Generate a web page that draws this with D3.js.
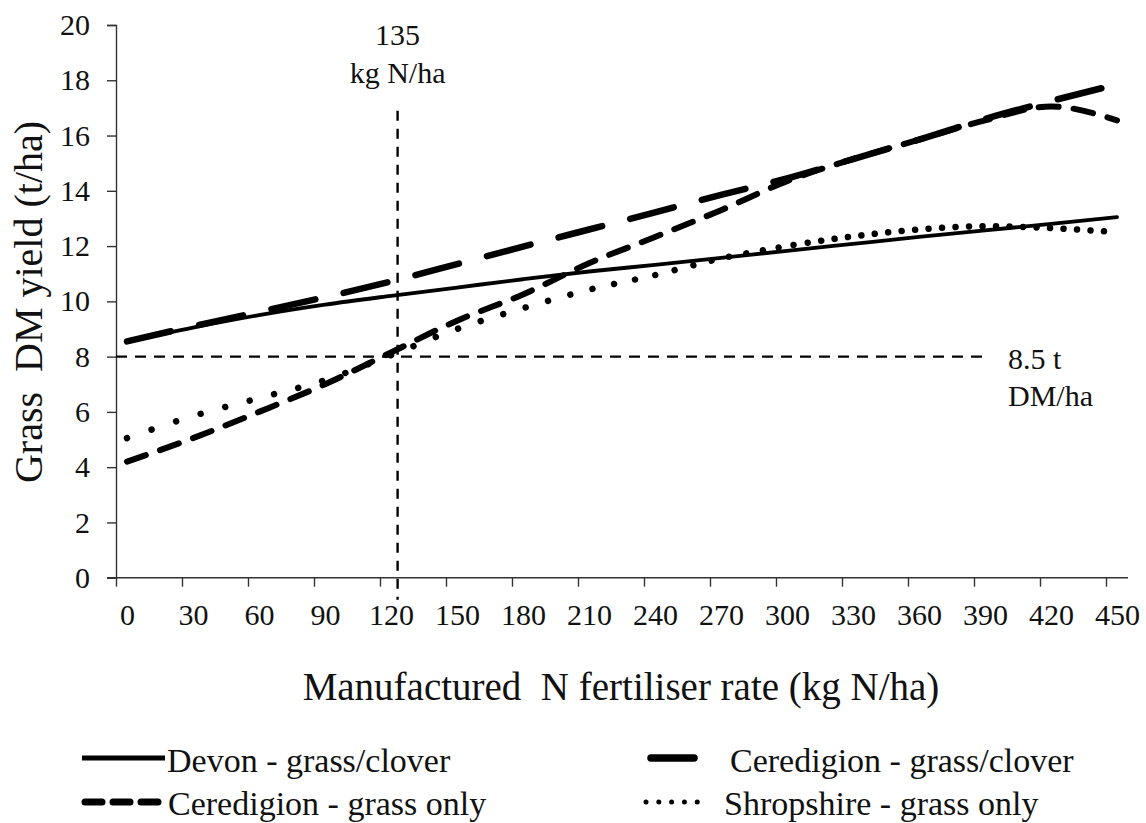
<!DOCTYPE html>
<html>
<head>
<meta charset="utf-8">
<script src="https://cdn.jsdelivr.net/npm/d3@7"></script>
</head>
<body style="margin:0; background:#fff">
<svg id="chart" font-family="Liberation Serif" style="display:block; font-family:'Liberation Serif', serif"></svg>
<script>
const width = 1146;
const height = 823;
const serif = "Liberation Serif";

// --- Data (t DM/ha read at each 30 kg N/ha) ---
const nRates = [0, 30, 60, 90, 120, 150, 180, 210, 240, 270, 300, 330, 360, 390, 420, 450];
const devonClover = [8.55, 9.05, 9.5, 9.88, 10.2, 10.5, 10.8, 11.08, 11.32, 11.57, 11.83, 12.08, 12.33, 12.57, 12.8, 13.05];
const ceredigionClover = [8.55, 9.1, 9.62, 10.15, 10.72, 11.35, 11.98, 12.6, 13.22, 13.85, 14.45, 15.15, 15.85, 16.6, 17.25, 17.85];
const ceredigionGrass = [4.2, 5.05, 6.0, 7.0, 8.15, 9.3, 10.25, 11.38, 12.33, 13.3, 14.35, 15.15, 15.85, 16.55, 17.05, 16.55];
const shropshireGrass = [5.05, 5.85, 6.5, 7.15, 8.05, 9.0, 9.75, 10.42, 10.95, 11.55, 12.0, 12.35, 12.6, 12.72, 12.65, 12.5];

const xTickLabels = d3.range(0, 451, 30);
const yTickLabels = d3.range(0, 21, 2);

// reference lines
const refRate = 123;      // vertical marker (labelled 135 kg N/ha)
const refYield = 8;       // horizontal marker (labelled 8.5 t DM/ha)

const svg = d3.select("#chart")
  .attr("width", width)
  .attr("height", height)
  .attr("viewBox", [0, 0, width, height]);

// category-style axis: each 10 kg N is one 22px slot, ticks on slot edges
const x = d3.scaleLinear().domain([0, 450]).range([127, 1117]);
const y = d3.scaleLinear().domain([0, 20]).range([577.7, 25]);

const axisColor = "#333";

// --- Axes ---
const gy = svg.append("g")
  .attr("transform", `translate(${x(-5)},0)`)
  .call(d3.axisLeft(y).tickValues(yTickLabels).tickSize(9).tickPadding(17).tickFormat(d3.format("d")));

const gxTicks = svg.append("g")
  .attr("transform", `translate(0,${y(0)})`)
  .call(d3.axisBottom(x).tickValues(d3.range(-5, 446, 30)).tickSize(9).tickFormat(""));
gxTicks.select(".domain").attr("d", `M${x(-5) - 9},0H${x(455)}`);

const gxLabels = svg.append("g")
  .attr("transform", `translate(0,${y(0)})`)
  .call(d3.axisBottom(x).tickValues(xTickLabels).tickSize(0).tickPadding(26));
gxLabels.select(".domain").remove();

svg.selectAll("g").attr("font-family", serif);
svg.selectAll(".tick line, .domain")
  .attr("stroke", axisColor)
  .attr("stroke-width", 1.4);
svg.selectAll(".tick text")
  .attr("font-size", 30)
  .attr("fill", "#111");

// axis titles
svg.append("text")
  .attr("transform", `translate(42, 302) rotate(-90)`)
  .attr("text-anchor", "middle")
  .attr("font-size", 40)
  .attr("fill", "#111")
  .attr("xml:space", "preserve")
  .style("white-space", "pre")
  .text("Grass  DM yield (t/ha)");

svg.append("text")
  .attr("x", 621)
  .attr("y", 700)
  .attr("text-anchor", "middle")
  .attr("font-size", 39)
  .attr("fill", "#111")
  .attr("xml:space", "preserve")
  .style("white-space", "pre")
  .text("Manufactured  N fertiliser rate (kg N/ha)");

// --- Reference lines ---
svg.append("line")
  .attr("x1", x(refRate)).attr("x2", x(refRate))
  .attr("y1", y(16.9)).attr("y2", y(-0.8))
  .attr("stroke", "#000").attr("stroke-width", 2.4)
  .attr("stroke-dasharray", "10,8");

svg.append("line")
  .attr("x1", x(-5)).attr("x2", x(390))
  .attr("y1", y(refYield)).attr("y2", y(refYield))
  .attr("stroke", "#000").attr("stroke-width", 2.4)
  .attr("stroke-dasharray", "11,8");

const annot = svg.append("g").attr("font-size", 30).attr("fill", "#111");
annot.append("text").attr("x", x(refRate)).attr("y", 45).attr("text-anchor", "middle").text("135");
annot.append("text").attr("x", x(refRate)).attr("y", 83).attr("text-anchor", "middle").text("kg N/ha");
annot.append("text").attr("x", x(390) + 23).attr("y", 369).text("8.5 t");
annot.append("text").attr("x", x(390) + 23).attr("y", 406).text("DM/ha");

// --- Series ---
const series = [
  { name: "Devon - grass/clover", values: devonClover, width: 3.8, dash: null },
  { name: "Ceredigion - grass/clover", values: ceredigionClover, width: 6.5, dash: "45,29" },
  { name: "Ceredigion - grass only", values: ceredigionGrass, width: 6, dash: "20,15" },
  { name: "Shropshire - grass only", values: shropshireGrass, width: 6.5, dash: "dots" }
];

const line = d3.line()
  .x(d => x(d[0]))
  .y(d => y(d[1]))
  .curve(d3.curveMonotoneX);

// dot spacing gets tighter towards the high N end, as in the original
const dotGap = d3.scaleLinear().domain([0, 200, 280, 310]).range([26, 23, 17, 13.5]).clamp(true);

series.forEach(s => {
  const p = svg.append("path")
    .datum(nRates.map((n, i) => [n, s.values[i]]))
    .attr("fill", "none")
    .attr("stroke", "#000")
    .attr("stroke-width", s.width)
    .attr("stroke-linecap", "round")
    .attr("stroke-linejoin", "round")
    .attr("d", line);

  if (s.dash === "dots") {
    const node = p.node();
    const total = node.getTotalLength();
    const parts = [];
    let pos = 0;
    while (pos < total) {
      const pt = node.getPointAtLength(pos);
      const gap = dotGap(x.invert(pt.x));
      parts.push(0.01, gap);
      pos += gap;
    }
    p.attr("stroke-dasharray", parts.join(","));
  } else if (s.dash) {
    p.attr("stroke-dasharray", s.dash);
  }
});

// --- Legend ---
const legendItems = [
  { s: series[0], x1: 82, x2: 165, tx: 167, ly: 758, ty: 772, dash: null },
  { s: series[1], x1: 651, x2: 694, tx: 730, ly: 758, ty: 772, dash: null },
  { s: series[2], x1: 85, x2: 158, tx: 168, ly: 802, ty: 815, dash: "17,11" },
  { s: series[3], x1: 646, x2: 710, tx: 724, ly: 802, ty: 815, dash: "0.01,12.8" }
];

const gLegend = svg.append("g").attr("font-family", serif);
legendItems.forEach(d => {
  gLegend.append("line")
    .attr("x1", d.x1).attr("x2", d.x2)
    .attr("y1", d.ly).attr("y2", d.ly)
    .attr("stroke", "#000")
    .attr("stroke-width", d.s.width + (d.s.dash === "dots" ? -1.5 : 1))
    .attr("stroke-linecap", d.s.dash ? "round" : "butt")
    .attr("stroke-dasharray", d.dash);
  gLegend.append("text")
    .attr("x", d.tx).attr("y", d.ty)
    .attr("font-size", 34)
    .attr("fill", "#111")
    .text(d.s.name);
});

svg.selectAll("text").attr("font-family", serif).style("font-family", "'Liberation Serif', serif");
</script>
</body>
</html>
